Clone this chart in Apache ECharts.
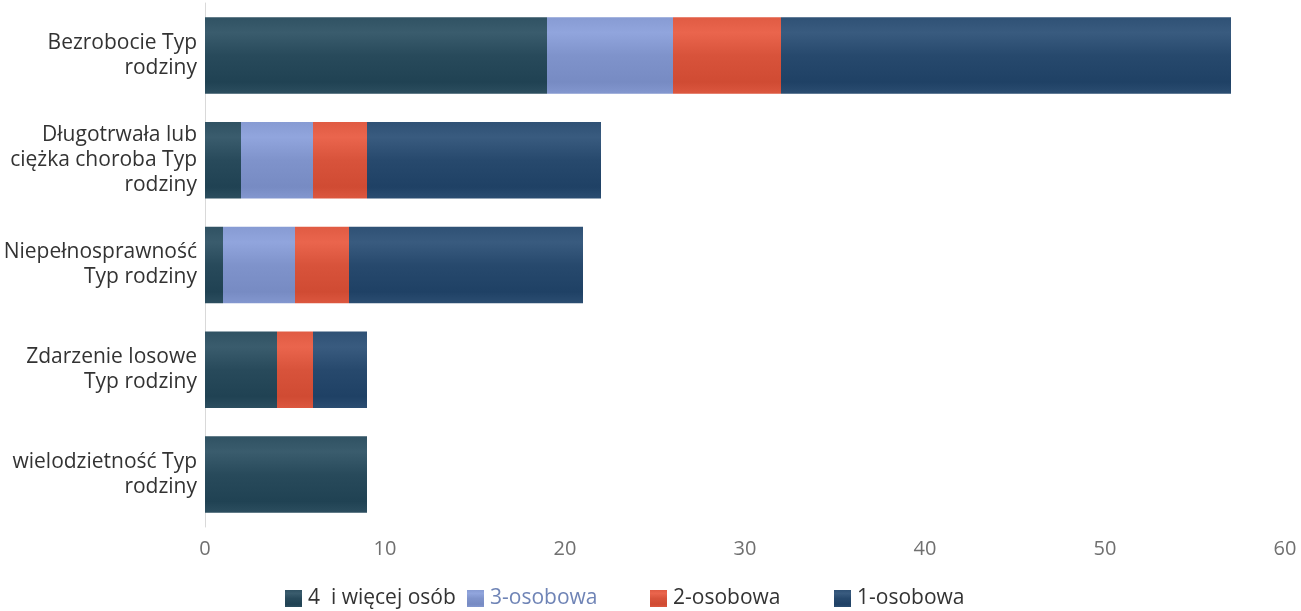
<!DOCTYPE html>
<html><head><meta charset="utf-8">
<script src="https://cdn.jsdelivr.net/npm/echarts@6/dist/echarts.min.js"></script>
<style>html,body{margin:0;padding:0;background:#fff}#c{width:1301px;height:611px}</style>
</head><body><div id="c"></div>
<script>
const categories = [
  "Bezrobocie Typ\nrodziny",
  "Długotrwała lub\nciężka choroba Typ\nrodziny",
  "Niepełnosprawność\nTyp rodziny",
  "Zdarzenie losowe\nTyp rodziny",
  "wielodzietność Typ\nrodziny"
];
const seriesNames = ["4  i więcej osób", "3-osobowa", "2-osobowa", "1-osobowa"];
const fourPlus = [19, 2, 1, 4, 9];
const three = [7, 4, 4, 0, 0];
const two = [6, 3, 3, 2, 0];
const one = [25, 13, 13, 3, 0];
const xTicks = [0, 10, 20, 30, 40, 50, 60];

const colors = ["#284a5b", "#7f93cb", "#d8533b", "#27496d"];
const values = [fourPlus, three, two, one];

function shade(hex, amt) {
  const n = parseInt(hex.slice(1), 16);
  let r = (n >> 16) & 255, g = (n >> 8) & 255, b = n & 255;
  r = Math.max(0, Math.min(255, Math.round(r + amt)));
  g = Math.max(0, Math.min(255, Math.round(g + amt)));
  b = Math.max(0, Math.min(255, Math.round(b + amt)));
  return "rgb(" + r + "," + g + "," + b + ")";
}
function grad(c) {
  return new echarts.graphic.LinearGradient(0, 0, 0, 1, [
    {offset: 0, color: shade(c, 8)},
    {offset: 0.2, color: shade(c, 18)},
    {offset: 0.5, color: c},
    {offset: 0.85, color: shade(c, -8)},
    {offset: 1, color: shade(c, 4)}
  ]);
}

const chart = echarts.init(document.getElementById('c'), null, {renderer: 'canvas'});
const font = "'Open Sans', 'Noto Sans', sans-serif";
const legendLefts = [285, 467, 650, 834];
const legendColors = ['#333', '#6f84b6', '#333', '#333'];
chart.setOption({
  animation: false,
  textStyle: {fontFamily: font},
  grid: {left: 205, right: 16, top: 3, bottom: 84, containLabel: false},
  xAxis: {
    type: 'value', min: xTicks[0], max: xTicks[xTicks.length - 1], interval: 10,
    axisLine: {show: false}, axisTick: {show: false},
    splitLine: {show: false},
    axisLabel: {color: '#707070', fontSize: 20, margin: 12, fontFamily: font}
  },
  yAxis: {
    type: 'category', data: categories, inverse: true,
    axisLine: {show: true, lineStyle: {color: '#d9d9d9', width: 1}},
    axisTick: {show: false},
    axisLabel: {color: '#333', fontSize: 21, margin: 8, lineHeight: 25, align: 'right', fontFamily: font}
  },
  legend: seriesNames.map((n, i) => ({
    data: [n], left: legendLefts[i], top: 588, itemWidth: 17, itemHeight: 17, icon: 'rect',
    itemGap: 0, padding: 0,
    textStyle: {fontSize: 21, color: legendColors[i], fontFamily: font, padding: [0, 0, 0, 1]}
  })),
  series: seriesNames.map((n, i) => ({
    name: n, type: 'bar', stack: 'total', barWidth: '73%',
    data: values[i],
    itemStyle: {color: grad(colors[i])},
    emphasis: {disabled: true}
  })),
  color: colors
});
</script></body></html>
